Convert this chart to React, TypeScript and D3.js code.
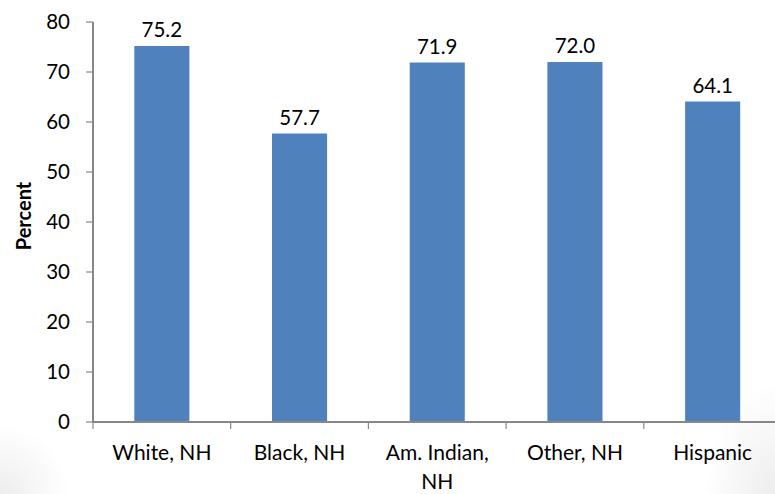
import React from "react";
import * as d3 from "d3";

const categories: string[][] = [
  ["White, NH"],
  ["Black, NH"],
  ["Am. Indian,", "NH"],
  ["Other, NH"],
  ["Hispanic"],
];
const values: number[] = [75.2, 57.7, 71.9, 72.0, 64.1];
const yTicks: number[] = [0, 10, 20, 30, 40, 50, 60, 70, 80];
const yTitle = "Percent";

const W = 775;
const H = 494;
const left = 93;
const top = 22;
const bottom = 422;
const bandStep = 137.7;
const font = "Lato, 'Open Sans', sans-serif";

export default function App() {
  const x = d3
    .scaleBand<number>()
    .domain(values.map((_, i) => i))
    .range([left, left + bandStep * values.length])
    .paddingInner(0.6)
    .paddingOuter(0.3);
  const y = d3.scaleLinear().domain([0, 80]).range([bottom, top]);
  const axisColor = "#878787";

  return (
    <svg
      width={W}
      height={H}
      style={{ position: "absolute", left: 0, top: 0, background: "#fff" }}
      fontFamily={font}
    >
      <defs>
        <radialGradient id="shadeL" cx="0" cy="1" r="1">
          <stop offset="0" stopColor="#000" stopOpacity={0.07} />
          <stop offset="1" stopColor="#000" stopOpacity={0} />
        </radialGradient>
        <radialGradient id="shadeR" cx="1" cy="1" r="1">
          <stop offset="0" stopColor="#000" stopOpacity={0.07} />
          <stop offset="1" stopColor="#000" stopOpacity={0} />
        </radialGradient>
      </defs>
      <rect x={0} y={H - 70} width={70} height={70} fill="url(#shadeL)" />
      <rect x={W - 70} y={H - 110} width={70} height={110} fill="url(#shadeR)" />

      {values.map((v, i) => (
        <g key={i}>
          <rect
            x={x(i)!}
            y={y(v)}
            width={x.bandwidth()}
            height={y(0) - y(v)}
            fill="#4F81BD"
          />
          <text
            x={x(i)! + x.bandwidth() / 2}
            y={y(v) - 9}
            textAnchor="middle"
            fontSize={20.5}
            fill="#000"
          >
            {v.toFixed(1)}
          </text>
        </g>
      ))}

      {/* y axis */}
      <line x1={left} x2={left} y1={top} y2={bottom} stroke={axisColor} strokeWidth={2} />
      {yTicks.map((t) => (
        <g key={t}>
          <line x1={left - 7} x2={left} y1={y(t)} y2={y(t)} stroke={axisColor} strokeWidth={1.2} />
          <text
            x={left - 23}
            y={y(t)}
            dy="0.36em"
            textAnchor="end"
            fontSize={20.5}
            fill="#000"
          >
            {t}
          </text>
        </g>
      ))}

      {/* x axis */}
      <line x1={left} x2={W} y1={bottom} y2={bottom} stroke={axisColor} strokeWidth={2} />
      {values.map((_, i) => (
        <line
          key={i}
          x1={left + bandStep * i}
          x2={left + bandStep * i}
          y1={bottom}
          y2={bottom + 7}
          stroke={axisColor}
          strokeWidth={1.2}
        />
      ))}
      {categories.map((lines, i) => (
        <text
          key={i}
          x={x(i)! + x.bandwidth() / 2}
          y={460}
          textAnchor="middle"
          fontSize={21}
          fill="#000"
        >
          {lines.map((ln, j) => (
            <tspan key={j} x={x(i)! + x.bandwidth() / 2} dy={j === 0 ? 0 : 29}>
              {ln}
            </tspan>
          ))}
        </text>
      ))}

      <text
        transform={`translate(31, 216) rotate(-90)`}
        textAnchor="middle"
        fontSize={20}
        fontWeight="bold"
        fill="#000"
      >
        {yTitle}
      </text>
    </svg>
  );
}
